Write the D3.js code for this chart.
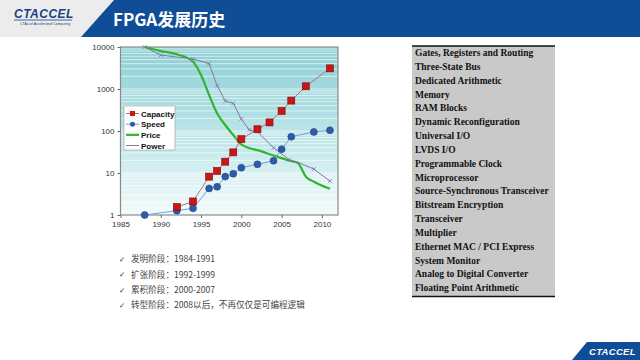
<!DOCTYPE html>
<html><head><meta charset="utf-8">
<script src="https://cdn.jsdelivr.net/npm/d3@7"></script>
<style>body{margin:0;background:#fff;}svg{display:block;}</style>
</head><body>
<script>
const capacityYears = [1992,1994,1996,1997,1998,1999,2000,2002,2003.5,2005,2006.2,2008,2011];
const capacityVals  = [1.55,2.1,8.2,11.2,18.6,31,64,110,160,300,530,1160,3100];
const speedYears = [1988,1992,1994,1996,1997,1998,1999,2000,2002,2004,2005,2006.2,2009,2011];
const speedVals  = [1,1.27,1.44,4.3,4.7,8.2,9.6,13.4,16.1,19.6,37,73,95,104];
const powerYears = [1988,1990,1994,1996,1997,1998,1999,2000,2001,2002,2004,2006,2007,2009,2011];
const powerVals  = [10000,6400,5200,4000,1200,520,455,193,106,95,40,20.4,18,12.4,6.4];
const priceYears = [1988,1990,1992,1994,1995,1996,1997,1998,1999,2000,2001,2002,2004,2006,2007,2007.5,2008,2009,2011];
const priceVals  = [10000,8000,6700,4470,2150,720,262,139,80,48,39,35,26,19.6,17.5,12.4,8.2,6.2,4.2];
const xTicks = [1985,1990,1995,2000,2005,2010];
const yTicks = [1,10,100,1000,10000];
const legendLabels = ["Capacity","Speed","Price","Power"];
const features = ["Gates, Registers and Routing","Three-State Bus","Dedicated Arithmetic","Memory","RAM Blocks","Dynamic Reconfiguration","Universal I/O","LVDS I/O","Programmable Clock","Microprocessor","Source-Synchronous Transceiver","Bitstream Encryption","Transceiver","Multiplier","Ethernet MAC / PCI Express","System Monitor","Analog to Digital Converter","Floating Point Arithmetic"];
const stages = ["发明阶段：1984-1991","扩张阶段：1992-1999","累积阶段：2000-2007","转型阶段：2008以后，不再仅仅是可编程逻辑"];
const title = "FPGA发展历史";

const W=640,H=360;
const svg=d3.select("body").append("svg").attr("width",W).attr("height",H);
const defs=svg.append("defs");

// Header
svg.append("rect").attr("x",0).attr("y",0).attr("width",W).attr("height",37).attr("fill","#ececec");
svg.append("path").attr("d","M114,0 L640,0 L640,37 L81,37 Z").attr("fill","#0f4d96");
svg.append("text").attr("x",113).attr("y",26).attr("fill","#fff")
  .attr("font-family","'Noto Sans CJK SC','Noto Sans',sans-serif").attr("font-weight","bold")
  .attr("font-size",17).text(title);
// logo
svg.append("text").attr("x",14).attr("y",18).attr("fill","#1a3f86").attr("font-family","'Liberation Sans',Arial,sans-serif")
  .attr("font-weight","bold").attr("font-style","italic").attr("font-size",12).attr("letter-spacing",0.5).text("CTACCEL");
svg.append("line").attr("x1",14).attr("x2",72).attr("y1",20).attr("y2",20).attr("stroke","#1a3f86").attr("stroke-width",0.8);
svg.append("text").attr("x",20).attr("y",25).attr("fill","#1a3f86").attr("font-family","'Liberation Sans',Arial,sans-serif")
  .attr("font-size",3.5).text("CTAccel Accelerated Computing");

// Footer logo
svg.append("path").attr("d","M587,342 L640,342 L640,360 L572,360 Z").attr("fill","#0f4d96");
svg.append("text").attr("x",589).attr("y",355).attr("fill","#fff").attr("font-family","'Liberation Sans',Arial,sans-serif")
  .attr("font-weight","bold").attr("font-style","italic").attr("font-size",9.5).attr("letter-spacing",0.3).text("CTACCEL");

// Chart
const x=d3.scaleLinear().domain([1985,2012]).range([120.5,338]);
const y=d3.scaleLog().domain([1,10000]).range([215,47]);
const grad=defs.append("linearGradient").attr("id","bg").attr("x1",0).attr("y1",0).attr("x2",0).attr("y2",1);
grad.append("stop").attr("offset","0%").attr("stop-color","#8ccfd5");
grad.append("stop").attr("offset","55%").attr("stop-color","#bfe6e9");
grad.append("stop").attr("offset","100%").attr("stop-color","#f4fbfb");
svg.append("rect").attr("x",120.5).attr("y",47).attr("width",217.5).attr("height",168).attr("fill","url(#bg)");
const minor=[];
for(let d=1;d<10000;d*=10) for(let k=2;k<=10;k++) minor.push(d*k);
svg.append("g").selectAll("line").data(minor).join("line")
  .attr("x1",120.5).attr("x2",338).attr("y1",d=>y(d)).attr("y2",d=>y(d))
  .attr("stroke","#ffffff").attr("stroke-opacity",0.75).attr("stroke-width",0.8);
svg.append("rect").attr("x",120.5).attr("y",47).attr("width",217.5).attr("height",168).attr("fill","none").attr("stroke","#8a8a8a").attr("stroke-width",1.2);

const xAxis=svg.append("g").attr("transform","translate(0,215)")
  .call(d3.axisBottom(x).tickValues(xTicks).tickFormat(d3.format("d")).tickSize(3));
const yAxis=svg.append("g").attr("transform","translate(120.5,0)")
  .call(d3.axisLeft(y).tickValues(yTicks).tickFormat(d3.format("d")).tickSize(3));
[xAxis,yAxis].forEach(a=>{a.select(".domain").remove();
  a.selectAll("text").attr("font-family","'Liberation Sans',Arial,sans-serif").attr("font-size",8).attr("fill","#333");
  a.selectAll("line").attr("stroke","#666");});

const lineGen=(xs)=>d3.line().x((d,i)=>x(xs[i])).y(d=>y(d));
// Price
svg.append("path").datum(priceVals).attr("d",lineGen(priceYears).curve(d3.curveMonotoneX))
  .attr("fill","none").attr("stroke","#2fb52f").attr("stroke-width",2.2);
// Power
svg.append("path").datum(powerVals).attr("d",lineGen(powerYears))
  .attr("fill","none").attr("stroke","#8478a8").attr("stroke-width",1);
const pm=powerVals.map((v,i)=>[powerYears[i],v]).filter(d=>d[0]!==2002 && d[0]!==2007);
svg.append("g").selectAll("path").data(pm).join("path")
  .attr("d",d=>`M${x(d[0])-2},${y(d[1])-2}L${x(d[0])+2},${y(d[1])+2}M${x(d[0])-2},${y(d[1])+2}L${x(d[0])+2},${y(d[1])-2}`)
  .attr("stroke","#8478a8").attr("stroke-width",0.8);
// Speed
svg.append("path").datum(speedVals).attr("d",lineGen(speedYears))
  .attr("fill","none").attr("stroke","#6d9fd6").attr("stroke-width",1);
svg.append("g").selectAll("circle").data(speedVals).join("circle")
  .attr("cx",(d,i)=>x(speedYears[i])).attr("cy",d=>y(d)).attr("r",3.5)
  .attr("fill","#2e5ba8").attr("stroke","#1c3f80").attr("stroke-width",0.5);
// Capacity
svg.append("path").datum(capacityVals).attr("d",lineGen(capacityYears))
  .attr("fill","none").attr("stroke","#b07080").attr("stroke-width",1);
svg.append("g").selectAll("rect").data(capacityVals).join("rect")
  .attr("x",(d,i)=>x(capacityYears[i])-3.5).attr("y",d=>y(d)-3.5).attr("width",7).attr("height",7)
  .attr("fill","#cc1515").attr("stroke","#7a0a0a").attr("stroke-width",0.6);

// Legend
const lg=svg.append("g");
lg.append("rect").attr("x",124).attr("y",106).attr("width",51).attr("height",44).attr("fill","#fff").attr("stroke","#999").attr("stroke-width",0.6);
const ly=d3.scalePoint().domain(legendLabels).range([113.5,145.5]);
const styles={Capacity:{c:"#b07080",w:1},Speed:{c:"#6d9fd6",w:1},Price:{c:"#2fb52f",w:2.2},Power:{c:"#8478a8",w:1}};
legendLabels.forEach(l=>{
  lg.append("line").attr("x1",126).attr("x2",139).attr("y1",ly(l)).attr("y2",ly(l)).attr("stroke",styles[l].c).attr("stroke-width",styles[l].w);
  if(l==="Capacity") lg.append("rect").attr("x",130).attr("y",ly(l)-2.5).attr("width",5).attr("height",5).attr("fill","#cc1515");
  if(l==="Speed") lg.append("circle").attr("cx",132.5).attr("cy",ly(l)).attr("r",2.5).attr("fill","#2e5ba8");
  lg.append("text").attr("x",141).attr("y",ly(l)+3).attr("font-family","'Liberation Sans',Arial,sans-serif")
    .attr("font-weight","bold").attr("font-size",8).attr("fill","#111").text(l);
});

// Stages list
const sy=d3.scalePoint().domain(stages).range([259,305]);
const sg=svg.append("g");
stages.forEach(s=>{
  sg.append("text").attr("x",119).attr("y",sy(s)+3).attr("font-family","'DejaVu Sans',sans-serif").attr("font-size",7.5).attr("fill","#333").text("✓");
  sg.append("text").attr("x",131).attr("y",sy(s)+3.2).attr("font-family","'Noto Sans CJK SC',sans-serif").attr("font-size",8.6).attr("fill","#444").text(s);
});

// Feature table
const tg=svg.append("g");
tg.append("rect").attr("x",412).attr("y",46).attr("width",143).attr("height",251).attr("fill","#c9c9c9");
tg.append("line").attr("x1",412).attr("x2",555).attr("y1",46).attr("y2",46).attr("stroke","#111").attr("stroke-width",1.5);
tg.append("line").attr("x1",412).attr("x2",555).attr("y1",296.5).attr("y2",296.5).attr("stroke","#111").attr("stroke-width",1.5);
const fy=d3.scalePoint().domain(features).range([53,288]);
tg.selectAll("text").data(features).join("text")
  .attr("x",415).attr("y",d=>fy(d)+3.2).attr("font-family","'Liberation Serif','Times New Roman',serif")
  .attr("font-weight","bold").attr("font-size",9.5).attr("fill","#111").text(d=>d);
</script>
</body></html>
